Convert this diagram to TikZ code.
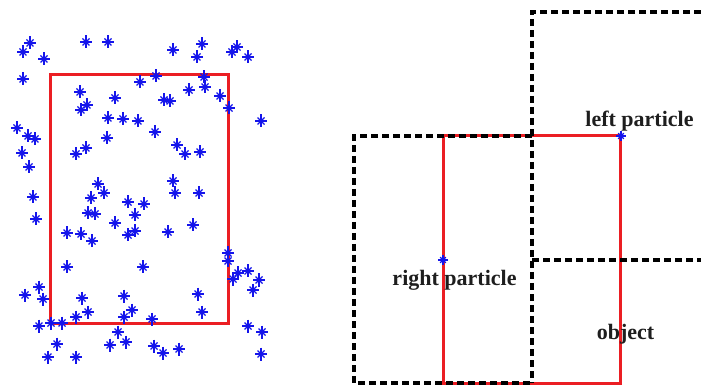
\documentclass[tikz,border=0pt]{standalone}
\usepackage{fontspec}
\setmainfont{Liberation Serif}
\definecolor{boxred}{RGB}{235,30,35}
\definecolor{starblue}{RGB}{20,20,235}
\definecolor{labelink}{RGB}{30,30,30}
\tikzset{
  frame/.style={draw=boxred, line width=3pt},
  cell/.style={draw=black, line width=3.3pt, dash pattern=on 7pt off 4pt},
  lbl/.style={font=\bfseries\fontsize{22}{24}\selectfont, text=labelink, anchor=base, inner sep=0pt},
  spark/.pic={
    \draw[starblue, line width=1.8pt] (-6,0) -- (6,0) (0,-6.5) -- (0,6.5);
    \draw[starblue, line width=1.3pt] (-3.5,-3.5) -- (3.5,3.5) (-3.5,3.5) -- (3.5,-3.5);
    \fill[starblue] (0,0) circle (2.4);
  }
}
\begin{document}
\begin{tikzpicture}[x=1pt,y=-1pt]
\useasboundingbox (0,0) rectangle (701,387);

% ---- left panel: scattered particles and the tracking window ----
\draw[frame] (50,75) rectangle (228,323);
\foreach \p in {
  (30,43),(23,52),(44,59),(86,42),(108,42),(173,50),(202,44),(197,57),(237,47),(232,52),(248,57),
  (23,79),(156,76),(140,82),(204,77),(205,87),(189,90),(220,96),(229,108),
  (80,92),(115,98),(87,105),(81,110),(164,100),(170,101),
  (108,118),(123,119),(138,121),(261,121),(155,132),(107,138),
  (17,128),(28,136),(35,139),(22,153),(29,167),(86,148),(76,154),
  (177,145),(185,154),(200,152),
  (98,184),(104,193),(91,198),(33,197),(173,181),(175,193),(199,193),(128,202),(144,204),
  (36,219),(88,213),(95,214),(135,215),(115,223),(128,235),(135,231),(67,233),(81,234),(92,241),(168,232),(193,225),
  (228,253),(228,261),(67,267),(143,267),(238,273),(233,279),(248,271),(259,280),(253,290),
  (25,295),(39,287),(43,299),(82,298),(88,312),(76,317),(124,296),(132,310),(124,317),(152,319),(198,294),(202,312),
  (39,326),(51,323),(62,323),(118,332),(110,345),(126,342),(57,344),(48,357),(76,357),(154,346),(163,353),(179,349),
  (248,326),(262,332),(261,354)}
  \pic at \p {spark};

% ---- right panel: object window and the two particle cells ----
\draw[frame] (443,136) rectangle (620,383);
\draw[cell] (701,12) -- (532,12) -- (532,383);
\draw[cell] (532,260) -- (701,260);
\draw[cell] (532,136) -- (354,136) -- (354,383) -- (532,383);

\coordinate (lp) at (621,136);
\coordinate (rp) at (443,260);
\pic[scale=0.8] at (lp) {spark};
\pic[scale=0.8] at (rp) {spark};

\node[lbl] (lplabel) at (639.5,127) {left particle};
\node[lbl] (rplabel) at (454.5,286) {right particle};
\node[lbl] (objlabel) at (625.5,339) {object};
\end{tikzpicture}
\end{document}
